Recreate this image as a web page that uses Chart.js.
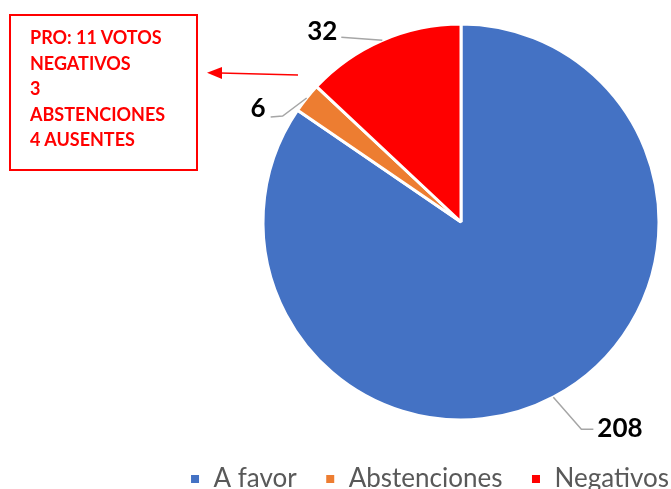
<!DOCTYPE html>
<html lang="es">
<head>
<meta charset="UTF-8">
<title>Votación</title>
<script src="https://cdn.jsdelivr.net/npm/chart.js"></script>
<style>
  html, body { margin: 0; padding: 0; background: #fff; }
  .wrap { position: relative; width: 671px; height: 489px; }
  #nota {
    position: absolute; left: 9px; top: 14px; width: 189px; height: 157px;
    box-sizing: border-box; border: 2px solid #ff0000;
    padding: 9px 0 0 19px;
    font: bold 18px Lato, sans-serif; line-height: 25.5px; color: #ff0000;
  }
</style>
</head>
<body>
<div class="wrap">
  <canvas id="votos" width="671" height="489"></canvas>
  <div id="nota">PRO: 11 VOTOS<br>NEGATIVOS<br>3<br>ABSTENCIONES<br>4 AUSENTES</div>
</div>

<script>
const categorias = ['A favor', 'Abstenciones', 'Negativos'];
const votos = [208, 6, 32];
const colores = ['#4472C4', '#ED7D31', '#FF0000'];

// where the value labels sit relative to the slice edge (leader elbow, leader end, text side)
const guias = [
  { pts: [[28, 32], [40, 32]], align: 'left', dx: 4, dy: -1 },
  { pts: [[-24, 18], [-36, 19]], align: 'right', dx: -5, dy: -8 },
  { pts: [[-41, -3], [-41, -3]], align: 'right', dx: -4, dy: -6 }
];

// put the pie to the right of the note box
const situarTarta = {
  id: 'situarTarta',
  afterLayout(chart) {
    const ca = chart.chartArea;
    ca.left = 263; ca.right = 659; ca.top = 24; ca.bottom = 420;
    ca.width = 396; ca.height = 396;
  }
};

const etiquetas = {
  id: 'etiquetas',
  afterDatasetsDraw(chart) {
    const ctx = chart.ctx;
    const arcs = chart.getDatasetMeta(0).data;
    ctx.save();
    arcs.forEach((arc, i) => {
      const g = guias[i];
      const mid = (arc.startAngle + arc.endAngle) / 2;
      const x0 = arc.x + Math.cos(mid) * arc.outerRadius;
      const y0 = arc.y + Math.sin(mid) * arc.outerRadius;
      ctx.strokeStyle = '#A6A6A6';
      ctx.lineWidth = 1.5;
      ctx.beginPath();
      ctx.moveTo(x0, y0);
      g.pts.forEach(p => ctx.lineTo(x0 + p[0], y0 + p[1]));
      ctx.stroke();
      const end = g.pts[g.pts.length - 1];
      ctx.fillStyle = '#000';
      ctx.font = 'bold 26px Lato, sans-serif';
      ctx.textAlign = g.align;
      ctx.textBaseline = 'middle';
      ctx.fillText(String(votos[i]), x0 + end[0] + g.dx, y0 + end[1] + g.dy);
    });
    ctx.restore();
  }
};

// red arrow pointing at the note box
const flecha = {
  id: 'flecha',
  afterDraw(chart) {
    const ctx = chart.ctx;
    ctx.save();
    ctx.strokeStyle = '#ff0000';
    ctx.fillStyle = '#ff0000';
    ctx.lineWidth = 1.5;
    ctx.beginPath();
    ctx.moveTo(298, 75);
    ctx.lineTo(220, 73);
    ctx.stroke();
    ctx.beginPath();
    ctx.moveTo(207, 72.7);
    ctx.lineTo(222, 67);
    ctx.lineTo(222, 79);
    ctx.closePath();
    ctx.fill();
    ctx.restore();
  }
};

new Chart(document.getElementById('votos'), {
  type: 'pie',
  data: {
    labels: categorias,
    datasets: [{
      data: votos,
      backgroundColor: colores,
      borderColor: '#ffffff',
      borderWidth: 3,
      radius: 198
    }]
  },
  options: {
    responsive: false,
    animation: false,
    layout: { padding: { left: 0, right: -26, top: 0, bottom: -13 } },
    plugins: {
      legend: {
        position: 'bottom',
        align: 'end',
        labels: {
          boxWidth: 11,
          boxHeight: 11,
          padding: 28,
          color: '#595959',
          font: { family: 'Lato', size: 26 }
        }
      },
      tooltip: { enabled: false }
    }
  },
  plugins: [situarTarta, etiquetas, flecha]
});
</script>
</body>
</html>
